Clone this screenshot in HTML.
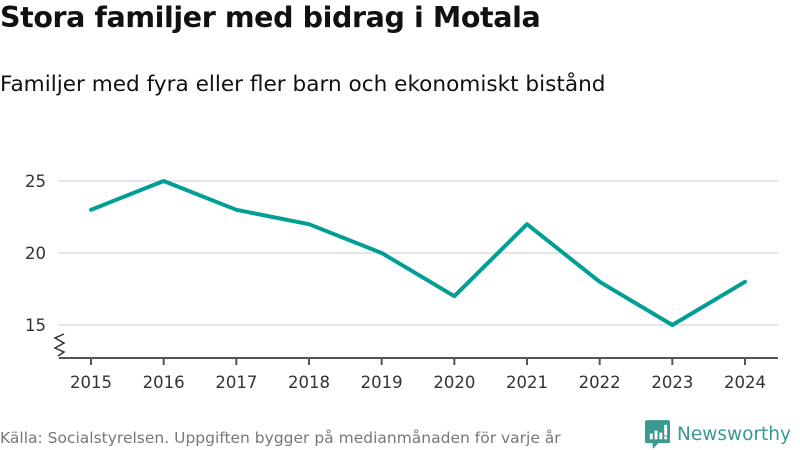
<!DOCTYPE html>
<html><head><meta charset="utf-8"><style>
body{margin:0;width:800px;height:450px;background:#fff;font-family:"DejaVu Sans","Liberation Sans",sans-serif;overflow:hidden;position:relative}
#title{position:absolute;left:0;top:1px;font-size:28.5px;font-weight:bold;color:#111;letter-spacing:-0.4px}
#sub{position:absolute;left:0;top:72px;font-size:21.6px;color:#111}
#src{position:absolute;left:0;top:429px;font-size:15.5px;color:#777}
#logo{position:absolute;left:645px;top:420px;font-size:18.5px;color:#3a9a90;display:flex;align-items:center;gap:7px}
svg{position:absolute;left:0;top:0}
</style></head><body>
<div id="title">Stora familjer med bidrag i Motala</div>
<div id="sub">Familjer med fyra eller fler barn och ekonomiskt bistånd</div>
<svg id="chart" width="800" height="450"></svg>
<div id="src">Källa: Socialstyrelsen. Uppgiften bygger på medianmånaden för varje år</div>
<div id="logo"><svg width="25" height="29" style="position:static" viewBox="0 0 26 30"><path d="M2 0h22a2 2 0 0 1 2 2v20a2 2 0 0 1-2 2H14l-6 6v-6H2a2 2 0 0 1-2-2V2a2 2 0 0 1 2-2z" fill="#3a9a90"/><rect x="5" y="14" width="3" height="6" fill="#fff"/><rect x="10" y="11" width="3" height="9" fill="#fff"/><rect x="15" y="13" width="3" height="7" fill="#fff"/><rect x="20" y="5" width="3" height="11" fill="#fff"/><rect x="20" y="17" width="3" height="3" fill="#fff"/></svg><span>Newsworthy</span></div>
<script>
const years=["2015","2016","2017","2018","2019","2020","2021","2022","2023","2024"];
const values=[23,25,23,22,20,17,22,18,15,18];
const yTicks=[15,20,25];
const svg=document.getElementById('chart');
const NS='http://www.w3.org/2000/svg';
const x=i=>91+i*(745-91)/(years.length-1);
const y=v=>181+(25-v)*14.4;
function mk(t,a){const e=document.createElementNS(NS,t);for(const k in a)e.setAttribute(k,a[k]);svg.appendChild(e);return e;}
yTicks.forEach(t=>{
 const g=mk('line',{x1:58,x2:778,y1:y(t),y2:y(t),stroke:'#ddd','stroke-width':1.5});
 
 
 const l=mk('text',{x:46,y:y(t)+6,'text-anchor':'end','font-size':16.5,fill:'#333'});
 l.textContent=t;
 
 
});
const ax=mk('line',{x1:59,x2:778,y1:358,y2:358,stroke:'#555','stroke-width':2});


const br=mk('path',{d:'M64 334 L55 338 L64 343 L55 348 L64 352 L58 356',fill:'none',stroke:'#333','stroke-width':1.5});


years.forEach((yr,i)=>{
 const tk=mk('line',{x1:x(i),x2:x(i),y1:358,y2:365,stroke:'#555','stroke-width':2});
 
 
 const l=mk('text',{x:x(i),y:388,'text-anchor':'middle','font-size':16.5,fill:'#333'});
 l.textContent=yr;
 
 
});
const ln=mk('polyline',{points:values.map((v,i)=>x(i)+','+y(v)).join(' '),fill:'none',stroke:'#009e94','stroke-width':4,'stroke-linejoin':'round','stroke-linecap':'round'});


</script>
</body></html>
